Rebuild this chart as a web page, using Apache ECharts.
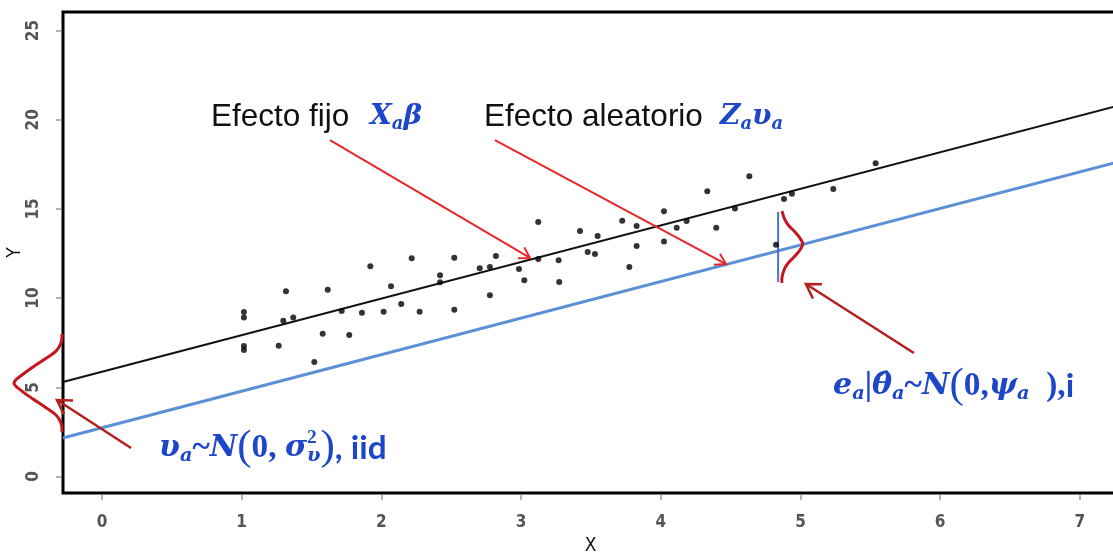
<!DOCTYPE html>
<html><head><meta charset="utf-8">
<script src="https://cdn.jsdelivr.net/npm/echarts@6/dist/echarts.min.js"></script>
<style>html,body{margin:0;padding:0;background:#fff}#c{width:1113px;height:554px}</style>
</head><body><div id="c"></div>
<script>
// ---- data ----
const xTicks = [0, 1, 2, 3, 4, 5, 6, 7];
const yTicks = [0, 5, 10, 15, 20, 25];
const points = [
  [1.016, 9.22], [1.016, 8.92], [1.016, 7.31], [1.016, 7.09], [1.317, 10.38],
  [1.265, 7.33], [1.298, 8.73], [1.369, 8.92], [1.520, 6.42], [1.580, 8.00],
  [1.616, 10.47], [1.716, 9.28], [1.770, 7.93], [1.861, 9.18], [1.921, 11.78],
  [2.016, 9.24], [2.069, 10.66], [2.142, 9.67], [2.217, 12.23], [2.274, 9.24],
  [2.420, 11.28], [2.420, 10.89], [2.522, 12.26], [2.522, 9.35], [2.704, 11.67],
  [2.777, 11.74], [2.777, 10.16], [2.820, 12.36], [2.985, 11.63], [3.023, 11.00],
  [3.123, 14.27], [3.123, 12.19], [3.269, 12.12], [3.273, 10.90], [3.422, 13.76],
  [3.477, 12.58], [3.529, 12.47], [3.548, 13.48], [3.724, 14.34], [3.775, 11.74],
  [3.827, 14.04], [3.827, 12.92], [4.023, 14.87], [4.023, 13.18], [4.114, 13.95],
  [4.185, 14.32], [4.333, 15.99], [4.397, 13.95], [4.531, 15.03], [4.634, 16.83],
  [4.825, 12.99], [4.882, 15.55], [4.939, 15.85], [5.235, 16.12], [5.538, 17.56]
];
const fixedLine = [[-0.28, 5.30], [7.28, 20.80]];
const randomLine = [[-0.28, 2.16], [7.28, 17.65]];
const leftCurve = [
  [-0.286, 7.99], [-0.293, 7.48], [-0.329, 7.03], [-0.408, 6.59], [-0.494, 6.14],
  [-0.573, 5.69], [-0.630, 5.24], [-0.573, 4.79], [-0.494, 4.35], [-0.408, 3.90],
  [-0.329, 3.45], [-0.293, 3.00], [-0.286, 2.49]
];
const rightCurve = [
  [4.868, 14.88], [4.889, 14.38], [4.918, 14.04], [4.961, 13.71], [4.996, 13.37],
  [5.017, 13.03], [4.996, 12.70], [4.961, 12.36], [4.918, 12.02], [4.889, 11.69],
  [4.868, 11.18], [4.868, 10.85]
];
const errorBar = [[4.84, 14.83], [4.84, 10.90]];
// arrows: [x1, y1, x2, y2] (tail -> head)
const brightArrows = [
  [1.632, 18.86, 3.064, 12.25],
  [2.813, 18.86, 4.467, 11.91]
];
const darkArrows = [
  [5.812, 6.92, 5.039, 10.79],
  [0.208, 1.60, -0.322, 4.29]
];

// ---- styling ----
const BLUE = '#1e46c8';
const mathFont = 'DejaVu Serif';
const sansFont = 'Liberation Sans';
function makeRich(k) {
  return {
    t: { fontFamily: sansFont, fontSize: 31.5, fill: '#111' },
    m: { fontFamily: mathFont, fontStyle: 'italic', fontWeight: 'bold', fontSize: 28 * k, fill: BLUE },
    s: { fontFamily: mathFont, fontStyle: 'italic', fontWeight: 'bold', fontSize: 18 * k, fill: BLUE, padding: [15 * k, 0, 0, 0] },
    sup: { fontFamily: 'Liberation Serif', fontWeight: 'bold', fontSize: 18 * k, fill: BLUE, padding: [0, 0, 18 * k, 0], width: 0.01 },
    r: { fontFamily: 'Liberation Serif', fontWeight: 'bold', fontSize: 31 * k, fill: BLUE },
    p: { fontFamily: 'Liberation Serif', fontSize: 40 * k, fill: BLUE },
    w: { fontFamily: 'Lato', fontWeight: 'bold', fontSize: 31 * k, fill: BLUE }
  };
}
const richTop = makeRich(1);
const richBottom = makeRich(1.075);
function txt(x, y, text, rich) {
  return { type: 'text', x: x, y: y, z: 100, silent: true,
    style: { text: text, rich: rich || richTop, align: 'left', textAlign: 'left', verticalAlign: 'middle', textVerticalAlign: 'middle' } };
}
const condFont = "'DejaVu Sans Condensed', 'Liberation Sans', sans-serif";
const axisLabelStyle = { fontFamily: condFont, fontWeight: 'bold', fontSize: 17, color: '#555' };

function curveSeries(pts) {
  return {
    type: 'custom', data: pts, clip: false, z: 6, silent: true,
    renderItem: function (params, api) {
      if (params.dataIndex !== 0) return null;
      return { type: 'polyline', shape: { points: pts.map(p => api.coord(p)), smooth: 0.35 },
        style: { stroke: '#c4161c', lineWidth: 3, fill: null } };
    }
  };
}
function arrowSeries(list, color, width, head) {
  return {
    type: 'custom', data: list, clip: false, z: 7, silent: true,
    encode: { x: [0, 2], y: [1, 3] },
    renderItem: function (params, api) {
      const a = api.coord([api.value(0), api.value(1)]);
      const b = api.coord([api.value(2), api.value(3)]);
      const ang = Math.atan2(b[1] - a[1], b[0] - a[0]);
      const spread = 0.55;
      const l = [b[0] - head * Math.cos(ang - spread), b[1] - head * Math.sin(ang - spread)];
      const r = [b[0] - head * Math.cos(ang + spread), b[1] - head * Math.sin(ang + spread)];
      return { type: 'group', children: [
        { type: 'line', shape: { x1: a[0], y1: a[1], x2: b[0], y2: b[1] }, style: { stroke: color, lineWidth: width } },
        { type: 'polyline', shape: { points: [l, b, r] }, style: { stroke: color, lineWidth: width, fill: null, lineJoin: 'miter' } }
      ] };
    }
  };
}

const chart = echarts.init(document.getElementById('c'), null, { renderer: 'canvas' });
chart.setOption({
  animation: false,
  backgroundColor: '#fff',
  grid: { left: 63, right: -5, top: 12, bottom: 61, show: true, borderColor: '#000', borderWidth: 3, containLabel: false, outerBoundsMode: 'none' },
  xAxis: {
    type: 'value', min: -0.279, max: 7.273, offset: 2,
    axisLine: { show: false, onZero: false },
    axisTick: { show: true, length: 5, customValues: xTicks, lineStyle: { color: '#999', width: 1.5 } },
    axisLabel: { customValues: xTicks, margin: 19, ...axisLabelStyle },
    splitLine: { show: false },
    name: 'X', nameLocation: 'middle', nameGap: 42, nameMoveOverlap: false,
    nameTextStyle: { fontFamily: condFont, fontSize: 19, color: '#111' }
  },
  yAxis: {
    type: 'value', min: -0.925, max: 26.04, offset: 2,
    axisLine: { show: false, onZero: false },
    axisTick: { show: true, length: 5, customValues: yTicks, lineStyle: { color: '#999', width: 1.5 } },
    axisLabel: { customValues: yTicks, margin: 19, rotate: 90, ...axisLabelStyle },
    splitLine: { show: false },
    name: 'Y', nameLocation: 'middle', nameGap: 36, nameRotate: 90, nameMoveOverlap: false,
    nameTextStyle: { fontFamily: condFont, fontSize: 19, color: '#111' }
  },
  series: [
    { type: 'line', data: randomLine, symbol: 'none', silent: true, lineStyle: { color: '#5b8fd6', width: 3 }, z: 2 },
    { type: 'line', data: fixedLine, symbol: 'none', silent: true, lineStyle: { color: '#111', width: 2 }, z: 3 },
    { type: 'scatter', data: points, symbolSize: 6, itemStyle: { color: '#000' }, z: 5 },
    { type: 'line', data: errorBar, symbol: 'none', silent: true, lineStyle: { color: '#4a72c4', width: 2 }, z: 4 },
    curveSeries(leftCurve),
    curveSeries(rightCurve),
    arrowSeries(brightArrows, '#e8262a', 2, 12),
    arrowSeries(darkArrows, '#b3201d', 2.5, 16)
  ],
  graphic: [
    txt(211, 117, '{t|Efecto fijo}'),
    txt(370, 117, '{m|X}{s|a}{m|β}'),
    txt(484, 117, '{t|Efecto aleatorio}'),
    txt(720, 117, '{m|Z}{s|a}{m|υ}{s|a}'),
    txt(833, 386, '{m|e}{s|a}{r||}{m|θ̂}{s|a}{r|~}{m|N}{p|(}{r|0,}{m|ψ}{s|a}{r|  )}{r|,}{w|i}', richBottom),
    txt(159, 448, '{m|υ}{s|a}{r|~}{m|N}{p|(}{r|0, }{m|σ}{sup|2}{s|υ}{p|)}{w|, iid}', richBottom)
  ]
});
</script></body></html>
